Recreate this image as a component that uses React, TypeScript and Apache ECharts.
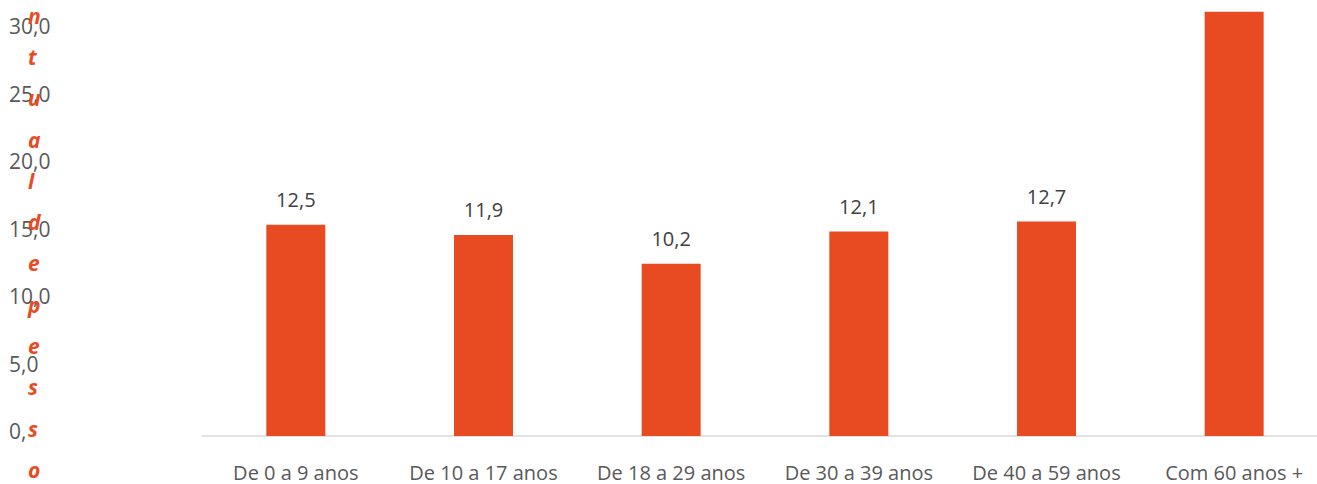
import React, { useEffect, useRef } from "react";
import * as echarts from "echarts";

const categories = [
  "De 0 a 9 anos",
  "De 10 a 17 anos",
  "De 18 a 29 anos",
  "De 30 a 39 anos",
  "De 40 a 59 anos",
  "Com 60 anos +",
];
const values = [12.5, 11.9, 10.2, 12.1, 12.7, 25.1];
const tickLabels: Record<number, string> = {
  0: "0,",
  5: "5,0",
  10: "10,0",
  15: "15,0",
  20: "20,0",
  25: "25,0",
  30: "30,0",
};
const axisTitleLetters = ["n", "t", "u", "a", "l", "d", "e", "p", "e", "s", "s", "o"];

const ORANGE = "#E84B21";
const FONT = "'Open Sans', 'Noto Sans', sans-serif";

export default function App() {
  const ref = useRef<HTMLDivElement>(null);
  useEffect(() => {
    if (!ref.current) return;
    const chart = echarts.init(ref.current, null, { renderer: "svg" });
    chart.setOption({
      animation: false,
      backgroundColor: "#ffffff",
      grid: [
        { left: 202, width: 1126, top: 0, bottom: 48 },
        { left: 60, width: 10, top: 26, bottom: 53 },
      ],
      xAxis: [
        {
          type: "category",
          gridIndex: 0,
          data: categories,
          axisLine: { lineStyle: { color: "#d9d9d9", width: 1.5 } },
          axisTick: { show: false },
          axisLabel: {
            color: "#595959",
            fontFamily: FONT,
            fontSize: 20,
            margin: 26,
            interval: 0,
          },
        },
        { type: "category", gridIndex: 1, data: [""], show: false },
      ],
      yAxis: [
        { type: "value", gridIndex: 0, min: 0, max: 25.8, show: false },
        {
          type: "value",
          gridIndex: 1,
          min: 0,
          max: 30,
          interval: 5,
          axisLine: { show: false },
          axisTick: { show: false },
          splitLine: { show: false },
          axisLabel: {
            align: "left",
            margin: 51,
            color: "#595959",
            fontFamily: FONT,
            fontSize: 21,
            formatter: (v: number) => tickLabels[v] ?? "",
          },
        },
      ],
      series: [
        {
          type: "bar",
          xAxisIndex: 0,
          yAxisIndex: 0,
          data: values,
          barWidth: 59,
          itemStyle: { color: ORANGE },
          label: {
            show: true,
            position: "top",
            distance: 15,
            color: "#404040",
            fontFamily: FONT,
            fontSize: 20,
            formatter: (p: any) => String(p.value).replace(".", ","),
          },
        },
        { type: "bar", xAxisIndex: 1, yAxisIndex: 1, data: [] },
      ],
      graphic: [
        {
          type: "text",
          left: 28,
          top: -5,
          z: 100,
          style: {
            text: axisTitleLetters.join("\n"),
            fill: ORANGE,
            fontFamily: FONT,
            fontSize: 21,
            fontWeight: "bold",
            fontStyle: "italic",
            lineHeight: 41.3,
            align: "center",
          },
        },
      ],
    });
    return () => chart.dispose();
  }, []);
  return (
    <div
      style={{
        position: "absolute",
        left: 0,
        top: 0,
        width: 1317,
        height: 484,
        overflow: "hidden",
        background: "#ffffff",
      }}
    >
      <div ref={ref} style={{ width: 1332, height: 484 }} />
    </div>
  );
}
